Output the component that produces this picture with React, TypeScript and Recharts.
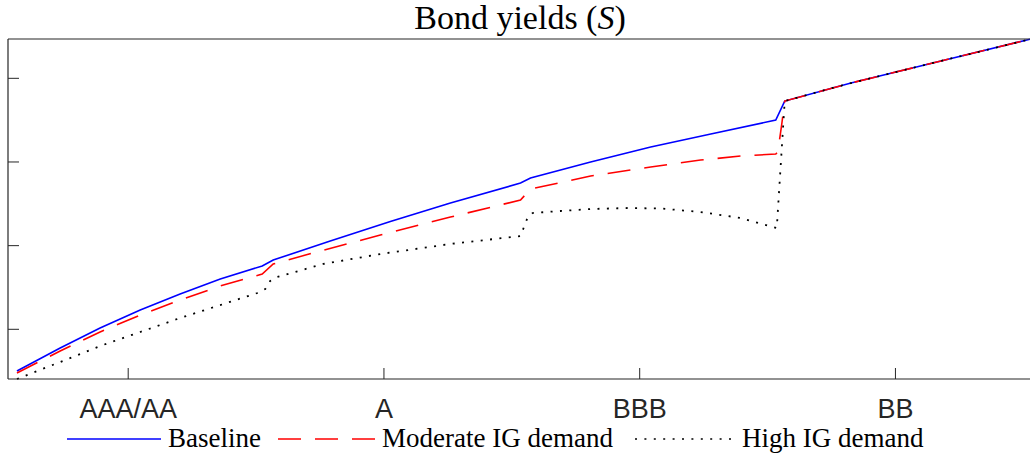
import { LineChart, Line, XAxis, YAxis, Legend } from 'recharts';

// rating buckets along the x axis (tick sits in the middle of each bucket)
const ratings = ['AAA/AA', 'A', 'BBB', 'BB'];
const ratingTicks = [0.47, 1.47, 2.47, 3.47];
const yieldTicks = [1, 2, 3, 4];

const baselineX = [0.035, 0.204, 0.36, 0.517, 0.673, 0.83, 0.994, 1.037, 1.26, 1.495, 1.73, 2.004, 2.043, 2.278, 2.513, 2.748, 3.002, 3.037, 3.296, 3.648, 4.0];
const baselineY = [0.502, 0.777, 1.016, 1.231, 1.422, 1.601, 1.757, 1.828, 2.055, 2.288, 2.509, 2.748, 2.808, 2.999, 3.178, 3.334, 3.501, 3.728, 3.944, 4.207, 4.47];

const moderateX = [0.035, 0.204, 0.36, 0.517, 0.673, 0.83, 0.994, 1.037, 1.221, 1.456, 1.73, 2.004, 2.043, 2.278, 2.513, 2.708, 2.865, 3.002, 3.01, 3.025, 3.037, 3.296, 3.648, 4.0];
const moderateY = [0.478, 0.741, 0.968, 1.171, 1.35, 1.518, 1.661, 1.781, 1.936, 2.127, 2.342, 2.545, 2.677, 2.832, 2.94, 3.023, 3.071, 3.095, 3.119, 3.442, 3.728, 3.944, 4.207, 4.47];

const highX = [0.035, 0.204, 0.36, 0.517, 0.673, 0.83, 0.975, 1.006, 1.025, 1.053, 1.233, 1.456, 1.73, 2.004, 2.016, 2.031, 2.051, 2.16, 2.278, 2.423, 2.552, 2.708, 2.865, 2.935, 3.006, 3.037, 3.296, 3.648, 4.0];
const highY = [0.406, 0.609, 0.8, 0.968, 1.135, 1.29, 1.434, 1.482, 1.577, 1.625, 1.781, 1.9, 2.02, 2.115, 2.211, 2.33, 2.39, 2.414, 2.438, 2.45, 2.444, 2.402, 2.33, 2.27, 2.211, 3.728, 3.944, 4.207, 4.47];

const toPoints = (xs: number[], ys: number[]) => xs.map((x, i) => ({ x, y: ys[i] }));

const AXIS = '#262626';
const SERIF = '"Liberation Serif", "Times New Roman", serif';
const SANS = '"Liberation Sans", Arial, sans-serif';

const BottomTick = ({ x, y, payload }: any) => (
    <g>
        <line x1={x} y1={y} x2={x} y2={y - 11} stroke={AXIS} strokeWidth={1} />
        <text x={x} y={y + 39} textAnchor="middle" fill={AXIS} fontFamily={SANS} fontSize={27}>
            {ratings[ratingTicks.indexOf(payload.value)]}
        </text>
    </g>
);
const TopTick = ({ x, y }: any) => <line x1={x} y1={y} x2={x} y2={y + 11} stroke={AXIS} strokeWidth={1} />;
const LeftTick = ({ x, y }: any) => <line x1={x} y1={y} x2={x + 11} y2={y} stroke={AXIS} strokeWidth={1} />;
const RightTick = ({ x, y }: any) => <line x1={x} y1={y} x2={x - 11} y2={y} stroke={AXIS} strokeWidth={1} />;

// legend sample positions along the bottom row, keyed by series name
const legendSlots: Record<string, { x: number; w: number }> = {
    'Baseline': { x: 67, w: 94 },
    'Moderate IG demand': { x: 278, w: 97 },
    'High IG demand': { x: 635, w: 100 },
};

const LegendRow = ({ payload }: any) => (
    <svg width={1030} height={34} style={{ display: 'block', overflow: 'visible' }}>
        {(payload || []).map((entry: any) => {
            const s = legendSlots[entry.value];
            if (!s) return null;
            return (
                <g key={entry.value}>
                    <line x1={s.x} y1={15} x2={s.x + s.w} y2={15} stroke={entry.color}
                        strokeWidth={1.6} strokeDasharray={entry.payload?.strokeDasharray} />
                    <text x={s.x + s.w + 7} y={23} fontFamily={SERIF} fontSize={27} fill="#000">{entry.value}</text>
                </g>
            );
        })}
    </svg>
);

export default function App() {
    return (
        <div style={{ position: 'absolute', left: 0, top: 0, width: 1030, height: 456, background: '#fff', overflow: 'hidden' }}>
            <div style={{ position: 'absolute', left: 0, top: 0, width: 1040, textAlign: 'center', fontFamily: SERIF, fontSize: 34, lineHeight: '36px', color: '#000' }}>
                Bond yields (<i>S</i>)
            </div>
            <LineChart width={1030} height={456} margin={{ top: 38, right: -2, bottom: 76, left: 7 }}>
                <XAxis xAxisId="b" dataKey="x" type="number" domain={[0, 4]} ticks={ratingTicks} orientation="bottom"
                    height={1} tickSize={0} tickMargin={0} tickLine={false} tick={<BottomTick />}
                    axisLine={{ stroke: AXIS, strokeWidth: 1.2 }} interval={0} />
                <XAxis xAxisId="t" type="number" domain={[0, 4]} ticks={ratingTicks} orientation="top"
                    height={1} tickSize={0} tickMargin={0} tickLine={false} tick={<TopTick />}
                    axisLine={{ stroke: AXIS, strokeWidth: 1.2 }} interval={0} />
                <YAxis yAxisId="l" type="number" domain={[0.406, 4.47]} ticks={yieldTicks} orientation="left"
                    width={1} tickSize={0} tickMargin={0} tickLine={false} tick={<LeftTick />}
                    axisLine={{ stroke: AXIS, strokeWidth: 1.2 }} interval={0} />
                <YAxis yAxisId="r" type="number" domain={[0.406, 4.47]} ticks={yieldTicks} orientation="right"
                    width={1} tickSize={0} tickMargin={0} tickLine={false} tick={<RightTick />}
                    axisLine={{ stroke: AXIS, strokeWidth: 1.2 }} interval={0} />
                <Legend layout="vertical" align="center" verticalAlign="middle" content={<LegendRow />}
                    wrapperStyle={{ position: 'absolute', left: 0, top: 424, width: 1030, height: 34 }} />

                {/* Baseline (blue, solid) */}
                <Line xAxisId="b" yAxisId="l" data={toPoints(baselineX, baselineY)} dataKey="y" name="Baseline"
                    type="linear" stroke="#0000ff" strokeWidth={1.6} dot={false} isAnimationActive={false} />

                {/* Moderate IG demand (red, dashed) */}
                <Line xAxisId="b" yAxisId="l" data={toPoints(moderateX, moderateY)} dataKey="y" name="Moderate IG demand"
                    type="linear" stroke="#ff0000" strokeWidth={1.6} strokeDasharray="23 14" dot={false} isAnimationActive={false} />

                {/* High IG demand (black, dotted) */}
                <Line xAxisId="b" yAxisId="l" data={toPoints(highX, highY)} dataKey="y" name="High IG demand"
                    type="linear" stroke="#000000" strokeWidth={1.8} strokeDasharray="2 7.4" dot={false} isAnimationActive={false} />
            </LineChart>
        </div>
    );
}
